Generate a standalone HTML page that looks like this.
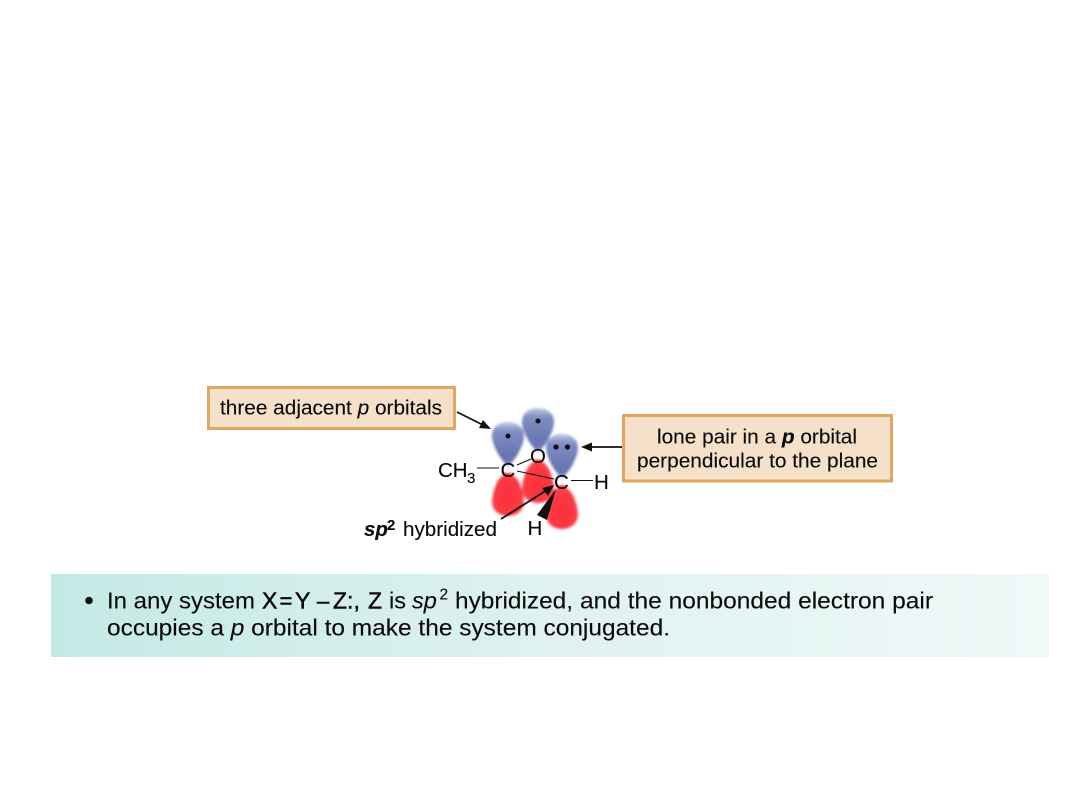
<!DOCTYPE html>
<html>
<head>
<meta charset="utf-8">
<style>
html,body{margin:0;padding:0;background:#fff;width:1080px;height:810px;overflow:hidden}
svg{display:block}
text{font-family:"Liberation Sans",sans-serif;fill:#0a0a0a;stroke:#0a0a0a;stroke-width:.12px}
.m{stroke:#0a0a0a;stroke-width:.5px}
</style>
</head>
<body>
<svg width="1080" height="810" viewBox="0 0 1080 810" xmlns="http://www.w3.org/2000/svg">
<defs>
<linearGradient id="bar" x1="0" x2="1" y1="0" y2="0">
<stop offset="0" stop-color="#c4e9e5"/>
<stop offset=".5" stop-color="#dff2f0"/>
<stop offset="1" stop-color="#eff9f8"/>
</linearGradient>
<linearGradient id="blue" x1="0" x2="0" y1="0" y2="1">
<stop offset="0" stop-color="#c3cbe4"/>
<stop offset=".2" stop-color="#7f8dc2"/>
<stop offset=".75" stop-color="#6675b2"/>
<stop offset="1" stop-color="#7d8bc0"/>
</linearGradient>
<radialGradient id="red" cx=".5" cy=".6" r=".65">
<stop offset="0" stop-color="#f9303a"/>
<stop offset=".7" stop-color="#fb3c46"/>
<stop offset="1" stop-color="#fd8f94"/>
</radialGradient>
<filter id="b" x="-20%" y="-20%" width="140%" height="140%"><feGaussianBlur stdDeviation="1.200"/></filter>
<path id="bl" d="M0 0 C-2 -5 -8 -11 -11 -17 C-14 -23 -16 -28 -16 -33 C-16 -42 -9 -47 0 -47 C9 -47 16 -42 16 -33 C16 -28 14 -23 11 -17 C8 -11 2 -5 0 0Z"/>
<path id="rl" d="M0 0 C-2 4 -8 8 -11 13 C-14 20 -16 27 -16 33 C-16 42 -8 47 0 47 C8 47 16 42 16 33 C16 27 14 20 11 13 C8 8 2 4 0 0Z"/>
</defs>

<rect x="51" y="574" width="998" height="83" fill="url(#bar)"/>

<rect x="208.500" y="387.500" width="246" height="41" fill="#f5e1c9" stroke="#e0a85f" stroke-width="3"/>
<rect x="623.500" y="415.500" width="268" height="65.500" fill="#f5e1c9" stroke="#e0a85f" stroke-width="3"/>

<g filter="url(#b)">
<use href="#rl" x="538" y="456" fill="url(#red)"/>
<use href="#bl" x="538" y="455" fill="url(#blue)"/>
<use href="#rl" x="508" y="469" fill="url(#red)"/>
<use href="#bl" x="508" y="469" fill="url(#blue)"/>
<use href="#rl" x="562" y="482" fill="url(#red)"/>
<use href="#bl" x="562" y="481" fill="url(#blue)"/>
</g>
<circle cx="508" cy="469" r="4" fill="#fff" opacity=".75"/>
<circle cx="538" cy="455" r="4.500" fill="#fff" opacity=".75"/>
<circle cx="562" cy="481" r="4" fill="#fff" opacity=".75"/>

<circle cx="508" cy="436" r="2.500" fill="#111"/>
<circle cx="538" cy="421" r="2.500" fill="#111"/>
<circle cx="556" cy="447" r="2.600" fill="#111"/>
<circle cx="567.500" cy="447" r="2.600" fill="#111"/>

<g stroke="#111" fill="none">
<path d="M477 468H499" stroke-width="1"/>
<path d="M517 465L531 459" stroke-width="1"/>
<path d="M517 471L554 479" stroke-width="1"/>
<path d="M571 480.500H593" stroke-width="1"/>
<path d="M457 412L483 425" stroke-width="1.800"/>
<path d="M590 447H622" stroke-width="1.800"/>
<path d="M501 519L547 490" stroke-width="1.800"/>
</g>
<polygon points="491,429 479,428 483,420" fill="#111"/>
<polygon points="581,447 592,442.500 592,451.500" fill="#111"/>
<polygon points="554,485 542,488 548,496" fill="#111"/>
<polygon points="556,489 537,515 547,520" fill="#111"/>

<text x="220" y="414.500" font-size="20.500" textLength="222" lengthAdjust="spacingAndGlyphs" xml:space="preserve">three adjacent <tspan font-style="italic">p</tspan> orbitals</text>
<text x="657" y="443.500" font-size="20" textLength="200" lengthAdjust="spacingAndGlyphs" xml:space="preserve">lone pair in a <tspan font-style="italic" font-weight="bold">p</tspan> orbital</text>
<text x="637" y="467.500" font-size="20" textLength="241" lengthAdjust="spacingAndGlyphs">perpendicular to the plane</text>

<text x="438" y="477" font-size="20.500">CH</text>
<text x="467" y="483" font-size="15">3</text>
<text x="500.500" y="477" font-size="20.500">C</text>
<text x="530" y="463" font-size="20.500">O</text>
<text x="554" y="489" font-size="20.500">C</text>
<text x="594" y="489" font-size="20.500">H</text>
<text x="527.500" y="535" font-size="20.500">H</text>
<text x="364" y="536" font-size="20.500" font-weight="bold" font-style="italic">sp</text>
<text x="387" y="530" font-size="15" font-weight="bold">2</text>
<text x="403" y="536" font-size="20" textLength="94" lengthAdjust="spacingAndGlyphs">hybridized</text>

<circle cx="89" cy="600.500" r="3.800" fill="#111"/>
<text x="107" y="608.500" font-size="23.500" textLength="148" lengthAdjust="spacingAndGlyphs">In any system</text>
<text x="262" y="608.500" font-size="23" class="m">X</text>
<text x="279.500" y="608.500" font-size="22" class="m">=</text>
<text x="295" y="608.500" font-size="23" class="m">Y</text>
<text x="317" y="608.500" font-size="22" class="m">–</text>
<text x="333" y="608.500" font-size="23" class="m">Z:,</text>
<text x="368" y="608.500" font-size="23" class="m">Z</text>
<text x="389" y="608.500" font-size="23.500">is</text>
<text x="412" y="608.500" font-size="23.500" font-style="italic">sp</text>
<text x="439.500" y="599.500" font-size="15.500">2</text>
<text x="455" y="608.500" font-size="23.500" textLength="118" lengthAdjust="spacingAndGlyphs">hybridized,</text>
<text x="580" y="608.500" font-size="23.500" textLength="353" lengthAdjust="spacingAndGlyphs">and the nonbonded electron pair</text>
<text x="107" y="635.500" font-size="23.500" textLength="563" lengthAdjust="spacingAndGlyphs" xml:space="preserve">occupies a <tspan font-style="italic">p</tspan> orbital to make the system conjugated.</text>
</svg>
</body>
</html>
